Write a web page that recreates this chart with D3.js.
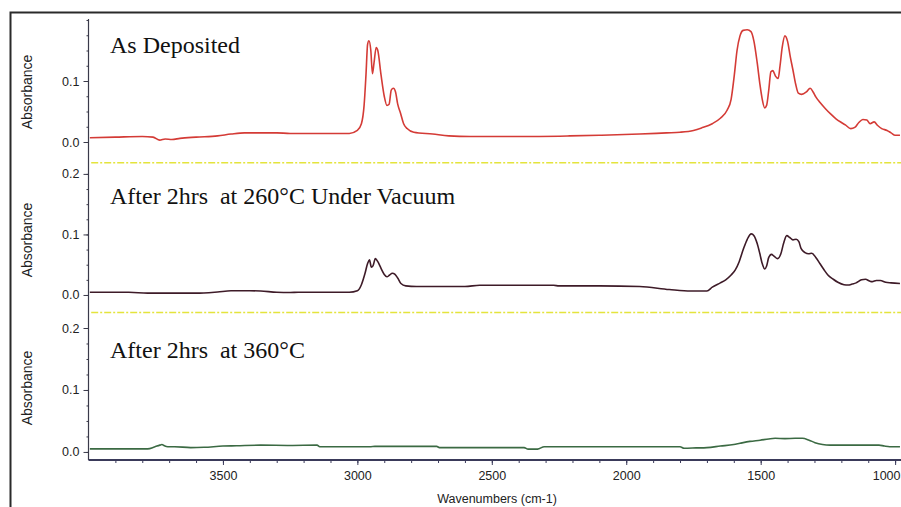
<!DOCTYPE html>
<html>
<head>
<meta charset="utf-8">
<script src="https://cdn.jsdelivr.net/npm/d3@7"></script>
<style>
  body { margin: 0; background: #fff; }
  svg { display: block; }
</style>
</head>
<body>
<svg id="chart"></svg>
<script>
// spectra: wavenumber (cm-1) / absorbance
var depositedWn = [3995,3900,3800,3760,3735,3715,3690,3660,3600,3520,3470,3420,3300,3250,3200,3100,3030,3000,2985,2975,2968,2962,2957,2950,2944,2938,2930,2924,2912,2900,2890,2882,2874,2866,2858,2850,2840,2828,2815,2790,2720,2660,2580,2400,2210,2100,1950,1850,1800,1750,1720,1680,1650,1625,1610,1598,1588,1577,1565,1550,1536,1525,1513,1503,1495,1485,1478,1470,1462,1455,1445,1435,1428,1420,1410,1400,1390,1380,1370,1360,1348,1330,1316,1305,1295,1280,1260,1240,1220,1200,1185,1165,1150,1135,1120,1105,1093,1078,1065,1050,1030,1015,1000,982];
var depositedAbs = [0.007,0.008,0.009,0.008,0.003,0.005,0.004,0.006,0.008,0.010,0.013,0.015,0.015,0.014,0.014,0.014,0.014,0.019,0.030,0.060,0.110,0.160,0.166,0.150,0.112,0.130,0.155,0.150,0.110,0.075,0.060,0.062,0.085,0.088,0.082,0.062,0.048,0.030,0.022,0.016,0.013,0.010,0.009,0.009,0.010,0.011,0.013,0.015,0.016,0.019,0.023,0.030,0.039,0.052,0.070,0.110,0.150,0.174,0.183,0.184,0.181,0.165,0.130,0.095,0.072,0.056,0.060,0.085,0.115,0.117,0.108,0.104,0.125,0.155,0.174,0.165,0.140,0.118,0.095,0.080,0.078,0.082,0.088,0.082,0.074,0.065,0.055,0.046,0.038,0.032,0.028,0.022,0.024,0.032,0.037,0.036,0.030,0.033,0.027,0.022,0.019,0.015,0.011,0.011];

var vac260Wn = [3995,3850,3780,3600,3520,3470,3400,3360,3300,3250,3220,3030,3000,2985,2972,2962,2955,2948,2942,2933,2924,2912,2900,2890,2880,2870,2860,2850,2838,2820,2780,2700,2600,2545,2400,2270,2250,2100,1950,1840,1760,1700,1680,1650,1630,1610,1595,1580,1565,1550,1535,1525,1513,1503,1495,1485,1478,1470,1460,1450,1437,1425,1415,1403,1392,1380,1368,1358,1350,1335,1322,1310,1295,1280,1265,1250,1230,1213,1190,1175,1160,1145,1125,1110,1095,1085,1070,1055,1035,1015,982];
var vac260Abs = [0.0045,0.0045,0.003,0.003,0.005,0.007,0.007,0.0065,0.0045,0.004,0.0045,0.0045,0.007,0.017,0.035,0.052,0.058,0.046,0.048,0.060,0.055,0.044,0.034,0.030,0.033,0.036,0.034,0.028,0.019,0.015,0.014,0.014,0.014,0.016,0.016,0.016,0.015,0.015,0.014,0.009,0.0065,0.0065,0.013,0.020,0.025,0.033,0.041,0.055,0.075,0.092,0.101,0.098,0.085,0.068,0.053,0.043,0.048,0.062,0.067,0.064,0.060,0.068,0.085,0.098,0.095,0.091,0.092,0.088,0.077,0.070,0.068,0.069,0.062,0.052,0.042,0.033,0.026,0.021,0.017,0.0165,0.018,0.020,0.025,0.026,0.023,0.022,0.024,0.024,0.021,0.020,0.019];

var air360Wn = [3995,3850,3780,3755,3735,3727,3718,3705,3680,3620,3570,3500,3450,3360,3250,3150,3140,2950,2935,2705,2695,2380,2365,2330,2305,2100,1800,1785,1740,1700,1650,1600,1577,1540,1502,1470,1446,1410,1372,1345,1320,1298,1270,1242,1060,1040,1020,982];
var air360Abs = [0.005,0.005,0.005,0.008,0.011,0.012,0.010,0.0085,0.0085,0.007,0.0075,0.0095,0.010,0.011,0.0105,0.011,0.0085,0.0085,0.009,0.009,0.007,0.007,0.0045,0.0045,0.0085,0.0085,0.0085,0.006,0.0065,0.007,0.0095,0.012,0.014,0.017,0.019,0.021,0.022,0.0215,0.022,0.022,0.019,0.015,0.012,0.011,0.011,0.0095,0.0085,0.0085];

var panelTitles = ["As Deposited", "After 2hrs  at 260\u00B0C Under Vacuum", "After 2hrs  at 360\u00B0C"];
var panelYTicks = [[0.0, 0.1], [0.0, 0.1, 0.2], [0.0, 0.1, 0.2]];
var referenceLevels = [-0.034, -0.029];   // yellow dotted reference traces
var xTicks = [3500, 3000, 2500, 2000, 1500, 1000];

var width = 901, height = 507;
var axisX = 88.5, axisBottom = 460;
var serif = "'Liberation Serif', 'Times New Roman', serif";
var sans = "'Liberation Sans', Arial, sans-serif";

var svg = d3.select("#chart")
    .attr("width", width)
    .attr("height", height);

// scanned page frame
svg.append("path")
    .attr("d", "M10.5,507 L10.5,12.5 L901,12.5")
    .attr("fill", "none")
    .attr("stroke", "#2a2a2a")
    .attr("stroke-width", 2);

var x = d3.scaleLinear().domain([4000, 980]).range([axisX, 900.5]);

var panels = [
  { wn: depositedWn, abs: depositedAbs, color: "#d43b36", domain: [-0.04, 0.2], range: [166.4, 20],  mid: 92 },
  { wn: vac260Wn,    abs: vac260Abs,    color: "#3e1b28", domain: [-0.04, 0.2], range: [319.2, 173.9], mid: 240 },
  { wn: air360Wn,    abs: air360Abs,    color: "#3b6a43", domain: [-0.013, 0.2], range: [460, 328],  mid: 388 }
];

// left axis line, continuous through all three panels
svg.append("line")
    .attr("x1", axisX).attr("x2", axisX)
    .attr("y1", 19).attr("y2", axisBottom)
    .attr("stroke", "#3a3a4a")
    .attr("stroke-width", 1.2);

panels.forEach(function(p, i) {
  var y = d3.scaleLinear().domain(p.domain).range(p.range);

  // minor ticks every 0.025
  var minor = d3.range(0, p.domain[1] + 0.001, 0.025);
  svg.append("g")
      .attr("transform", "translate(" + axisX + ",0)")
      .call(d3.axisLeft(y).tickValues(minor).tickSize(2).tickFormat(""))
      .call(function(g) { g.select(".domain").remove(); g.selectAll("line").attr("stroke", "#3a3a4a"); });

  var ax = svg.append("g")
      .attr("transform", "translate(" + axisX + ",0)")
      .call(d3.axisLeft(y).tickValues(panelYTicks[i]).tickSize(5).tickPadding(4).tickFormat(d3.format(".1f")));
  ax.select(".domain").remove();
  ax.selectAll("line").attr("stroke", "#3a3a4a");
  ax.selectAll("text")
      .style("font-family", sans)
      .style("font-size", "12.5px")
      .attr("fill", "#222");

  svg.append("text")
      .attr("transform", "translate(32," + p.mid + ") rotate(-90)")
      .attr("text-anchor", "middle")
      .style("font-family", sans)
      .style("font-size", "14px")
      .attr("fill", "#222")
      .text("Absorbance");

  if (i < referenceLevels.length) {
    svg.append("line")
        .attr("x1", x(3990)).attr("x2", width)
        .attr("y1", y(referenceLevels[i])).attr("y2", y(referenceLevels[i]))
        .attr("stroke", "#e4e43c")
        .attr("stroke-width", 1.6)
        .attr("stroke-dasharray", "7,2,2,2");
  }

  var pts = p.wn.map(function(w, k) { return [w, p.abs[k]]; });
  var line = d3.line()
      .x(function(d) { return x(d[0]); })
      .y(function(d) { return y(d[1]); })
      .curve(d3.curveMonotoneX);
  svg.append("path")
      .datum(pts)
      .attr("d", line)
      .attr("fill", "none")
      .attr("stroke", p.color)
      .attr("stroke-width", 1.6)
      .attr("stroke-linejoin", "round");

  svg.append("text")
      .attr("x", 110)
      .attr("y", y(0.2) + (i == 0 ? 33 : 30))
      .style("font-family", serif)
      .style("font-size", "24px")
      .style("white-space", "pre")
      .attr("fill", "#111")
      .text(panelTitles[i]);
});

// bottom wavenumber axis
var minorX = d3.range(1000, 4000, 100);
svg.append("g")
    .attr("transform", "translate(0," + axisBottom + ")")
    .call(d3.axisBottom(x).tickValues(minorX).tickSize(3).tickFormat(""))
    .call(function(g) { g.select(".domain").remove(); g.selectAll("line").attr("stroke", "#3a3a5a"); });

var xa = svg.append("g")
    .attr("transform", "translate(0," + axisBottom + ")")
    .call(d3.axisBottom(x).tickValues(xTicks).tickSize(5).tickPadding(6).tickFormat(d3.format("d")));
xa.select(".domain").remove();
xa.selectAll("line").attr("stroke", "#3a3a5a");
xa.selectAll("text")
    .style("font-family", sans)
    .style("font-size", "12.5px")
    .attr("fill", "#222");
// last label sits at the page edge: keep it inside
xa.selectAll("text")
    .filter(function(d) { return d === 1000; })
    .attr("text-anchor", "end")
    .attr("x", width - x(1000) - 1);

svg.append("line")
    .attr("x1", axisX).attr("x2", width)
    .attr("y1", axisBottom).attr("y2", axisBottom)
    .attr("stroke", "#3a3a5a")
    .attr("stroke-width", 2);

svg.append("text")
    .attr("x", 497)
    .attr("y", 503)
    .attr("text-anchor", "middle")
    .style("font-family", sans)
    .style("font-size", "12.5px")
    .attr("fill", "#222")
    .text("Wavenumbers (cm-1)");
</script>
</body>
</html>
